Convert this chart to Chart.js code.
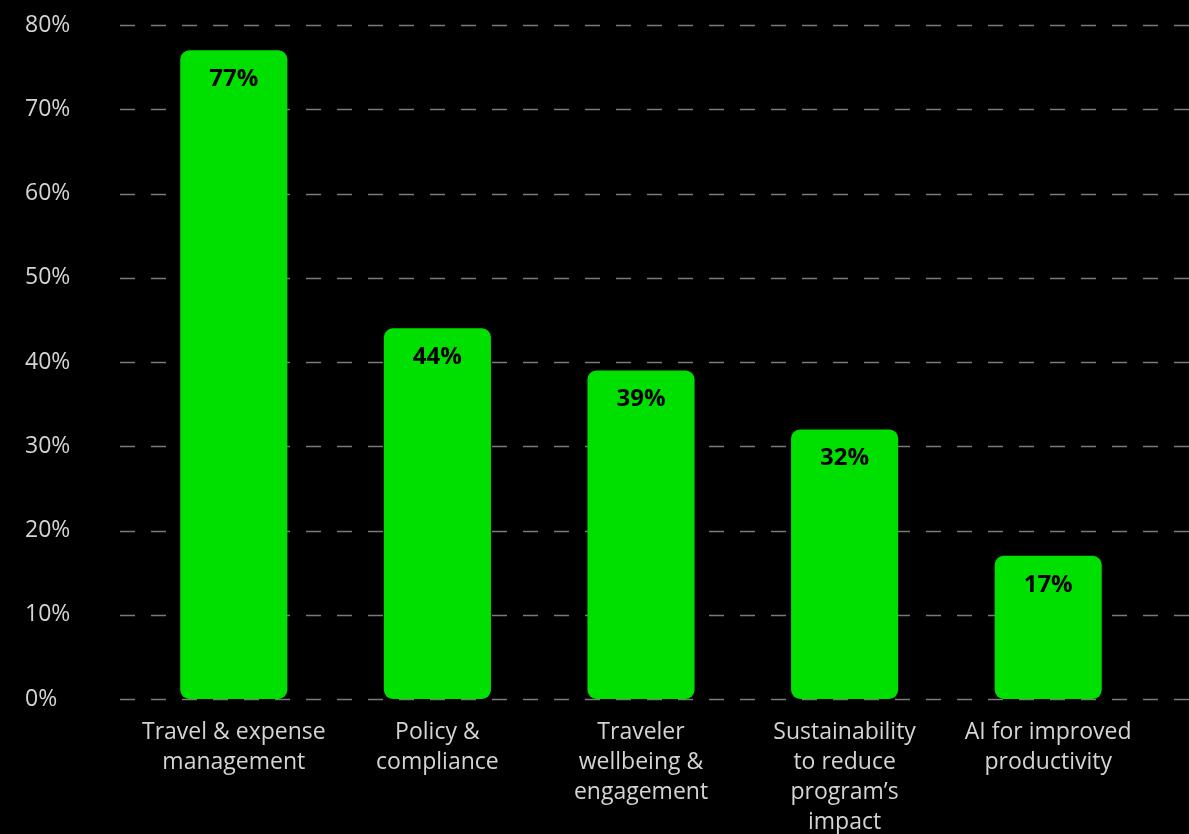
<!DOCTYPE html>
<html>
<head>
<meta charset="utf-8">
<title>Priorities</title>
<script src="https://cdn.jsdelivr.net/npm/chart.js@4/dist/chart.umd.min.js"></script>
<style>
  html, body { margin: 0; padding: 0; background: #000; }
  #wrap { width: 1189px; height: 834px; }
</style>
</head>
<body>
<div id="wrap"><canvas id="graphique"></canvas></div>
<script>
const categories = [
    ["Travel & expense", "management"],
    ["Policy &", "compliance"],
    ["Traveler", "wellbeing &", "engagement"],
    ["Sustainability", "to reduce", "program’s", "impact"],
    ["AI for improved", "productivity"]
];
const shares = [77, 44, 39, 32, 17];
const yTicks = [0, 10, 20, 30, 40, 50, 60, 70, 80];

const GREEN = "#00e000";
const FONT = "'Open Sans', 'Noto Sans', sans-serif";

// dashed horizontal guides, running past the plot on both sides
const dashedGrid = {
    id: "dashedGrid",
    beforeDatasetsDraw(chart) {
        const { ctx } = chart;
        const y = chart.scales.y;
        const x0 = chart.chartArea.left - 12;
        ctx.save();
        ctx.strokeStyle = "#7a7a7a";
        ctx.lineWidth = 1.5;
        ctx.setLineDash([15, 16]);
        yTicks.forEach(t => {
            const py = Math.round(y.getPixelForValue(t)) + 0.5;
            ctx.beginPath();
            ctx.moveTo(x0, py);
            ctx.lineTo(chart.width, py);
            ctx.stroke();
        });
        ctx.restore();
    }
};

// value printed inside the top of each bar
const barValues = {
    id: "barValues",
    afterDatasetsDraw(chart) {
        const { ctx } = chart;
        const meta = chart.getDatasetMeta(0);
        ctx.save();
        ctx.fillStyle = "#000";
        ctx.font = "bold 24px " + FONT;
        ctx.textAlign = "center";
        ctx.textBaseline = "middle";
        meta.data.forEach((bar, i) => {
            ctx.fillText(shares[i] + "%", bar.x, bar.y + 29);
        });
        ctx.restore();
    }
};

new Chart(document.getElementById("graphique").getContext("2d"), {
    type: "bar",
    data: {
        labels: categories,
        datasets: [{
            data: shares,
            backgroundColor: GREEN,
            borderRadius: 9,
            borderSkipped: false,
            categoryPercentage: 1,
            barPercentage: 0.526
        }]
    },
    options: {
        responsive: true,
        maintainAspectRatio: false,
        animation: false,
        layout: { padding: { top: 25, left: 25, right: 39, bottom: 0 } },
        plugins: {
            legend: { display: false },
            tooltip: { enabled: false }
        },
        scales: {
            x: {
                grid: { display: false },
                border: { display: false },
                afterFit(scale) { scale.height = 135; },
                ticks: {
                    color: "#d4d4d4",
                    font: { family: FONT, size: 23, lineHeight: 1.3 },
                    padding: 11,
                    maxRotation: 0,
                    autoSkip: false
                }
            },
            y: {
                min: 0,
                max: 80,
                grid: { display: false },
                border: { display: false },
                afterFit(scale) { scale.width = 107; },
                afterBuildTicks(scale) { scale.ticks = yTicks.map(v => ({ value: v })); },
                ticks: {
                    color: "#d4d4d4",
                    font: { family: FONT, size: 23 },
                    crossAlign: "far",
                    callback: v => v + "%"
                }
            }
        }
    },
    plugins: [dashedGrid, barValues]
});
</script>
</body>
</html>
